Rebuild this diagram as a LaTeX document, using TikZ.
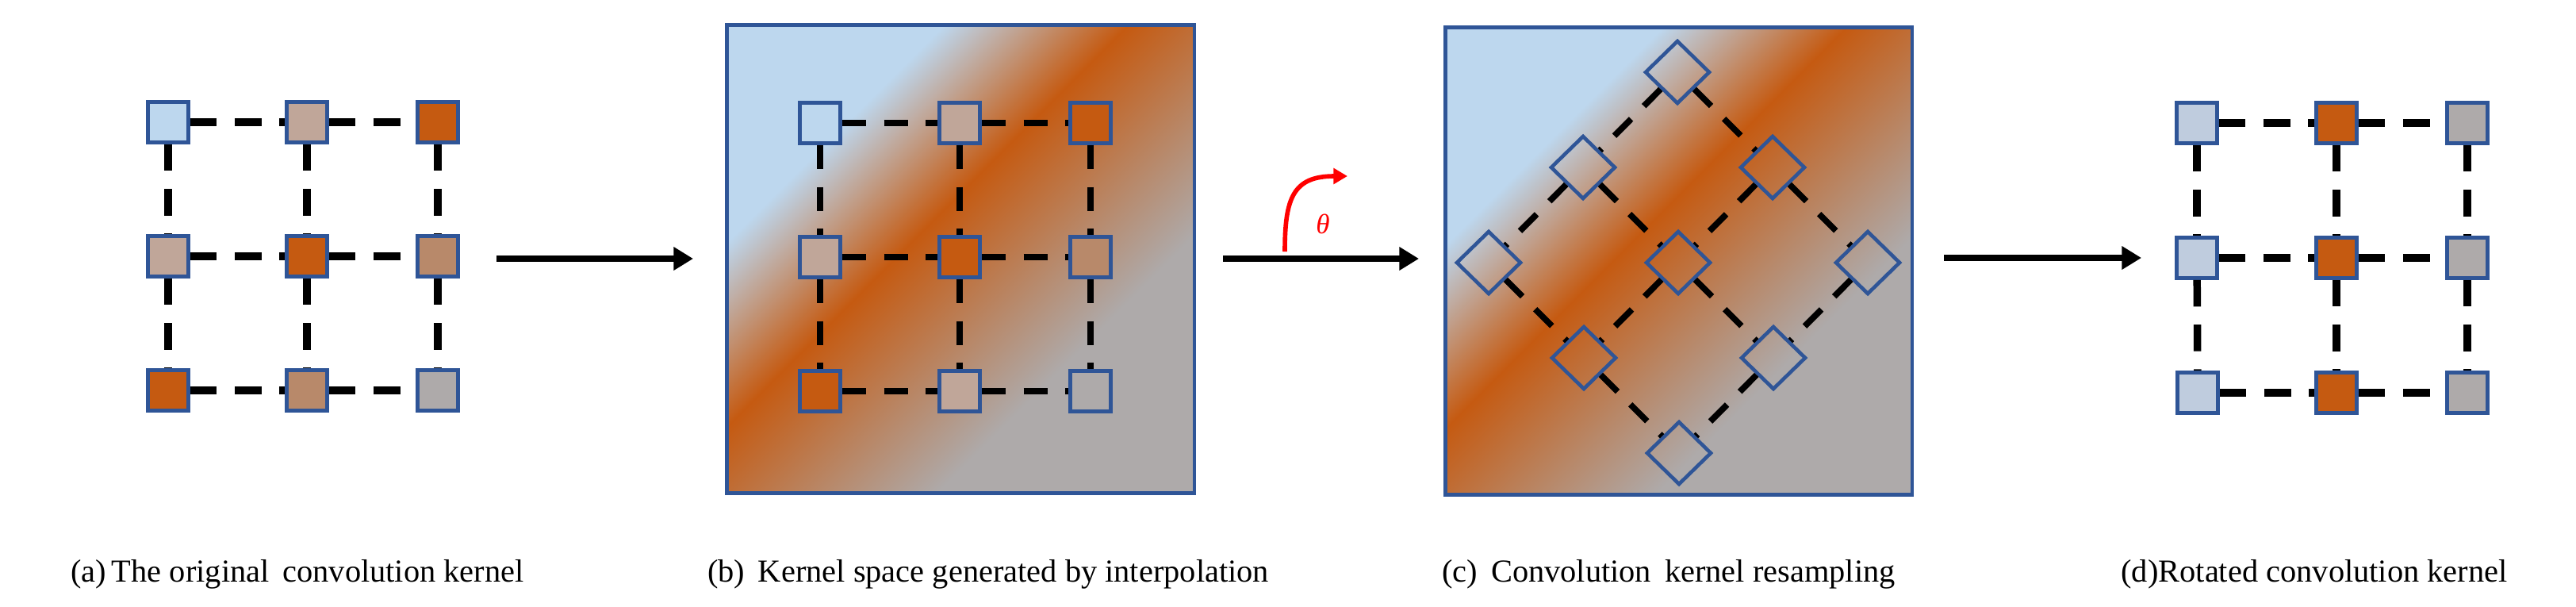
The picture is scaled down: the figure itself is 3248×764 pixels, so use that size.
\documentclass[tikz,border=0pt]{standalone}
\usepackage{fontspec}
\setmainfont{Liberation Serif}
\usetikzlibrary{shapes.geometric,arrows.meta}
\definecolor{lb}{HTML}{BDD7EE}
\definecolor{lbg}{HTML}{BFCCDE}
\definecolor{org}{HTML}{C55A11}
\definecolor{gry}{HTML}{AEAAAA}
\definecolor{tan}{HTML}{C0A699}
\definecolor{brn}{HTML}{B8896A}
\definecolor{bdr}{HTML}{2F5597}
\pgfdeclarehorizontalshading{kern}{100bp}{color(0bp)=(lb); color(31bp)=(lb); color(45bp)=(org); color(66bp)=(gry); color(100bp)=(gry)}
\tikzset{
  sq/.style={rectangle, draw=bdr, line width=2.8pt, minimum size=1.02cm, inner sep=0pt},
  dm/.style={diamond, draw=bdr, line width=2.6pt, minimum width=1.64cm, minimum height=1.6cm, inner sep=0pt},
  box/.style={rectangle, draw=bdr, line width=2.8pt, inner sep=0pt, shading=kern, shading angle=-45},
  dl/.style={line width=5.4pt, dash pattern=on 19pt off 13pt},
  dlb/.style={line width=4.4pt, dash pattern=on 17pt off 13pt},
  arr/.style={line width=4.5pt, -{Triangle[length=14pt,width=16pt]}},
  lab/.style={font=\fontsize{23}{26}\selectfont, anchor=base}
}
\begin{document}
\begin{tikzpicture}[x=0.02cm,y=-0.02cm]
\useasboundingbox (0,0) rectangle (3248,764);
% panel a
\foreach \n/\x/\y/\c in {a11/212/154/lb,a12/387/154/tan,a13/552/154/org,
  a21/212/323/tan,a22/387/323/org,a23/552/323/brn,
  a31/212/492/org,a32/387/492/brn,a33/552/492/gry}
  \node[sq, fill=\c] (\n) at (\x,\y) {};
\foreach \p/\q in {a11/a12,a12/a13,a21/a22,a22/a23,a31/a32,a32/a33,a11/a21,a21/a31,a12/a22,a22/a32,a13/a23,a23/a33}
  \draw[dl] (\p) -- (\q);
% panel b
\node[box, minimum width=11.8cm, minimum height=11.82cm] (boxb) at (1211,326.5) {};
\foreach \n/\x/\y/\c in {b11/1034/155/lb,b12/1210/155/tan,b13/1375/155/org,
  b21/1034/324/tan,b22/1210/324/org,b23/1375/324/brn,
  b31/1034/493/org,b32/1210/493/tan,b33/1375/493/gry}
  \node[sq, fill=\c] (\n) at (\x,\y) {};
\foreach \p/\q in {b11/b12,b12/b13,b21/b22,b22/b23,b31/b32,b32/b33,b11/b21,b21/b31,b12/b22,b22/b32,b13/b23,b23/b33}
  \draw[dlb] (\p) -- (\q);
% panel c
\node[box, minimum width=11.78cm, minimum height=11.8cm] (boxc) at (2116.5,329) {};
\foreach \i in {0,1,2}{\foreach \j in {0,1,2}{
  \node[dm] (c\i\j) at ({2115-119*\i+120*\j},{91+120*\i+120*\j}) {};}}
\foreach \p/\q in {c00/c01,c01/c02,c10/c11,c11/c12,c20/c21,c21/c22,c00/c10,c10/c20,c01/c11,c11/c21,c02/c12,c12/c22}
  \draw[dlb] (\p) -- (\q);
% panel d
\foreach \n/\x/\y/\c in {d11/2770/155/lbg,d12/2946/155/org,d13/3111/155/gry,
  d21/2770/325/lbg,d22/2946/325/org,d23/3111/325/gry,
  d31/2771/495/lbg,d32/2946/495/org,d33/3111/495/gry}
  \node[sq, fill=\c] (\n) at (\x,\y) {};
\foreach \p/\q in {d11/d12,d12/d13,d21/d22,d22/d23,d31/d32,d32/d33,d11/d21,d21/d31,d12/d22,d22/d32,d13/d23,d23/d33}
  \draw[dl] (\p) -- (\q);
% arrows
\coordinate (s1) at (626,326); \coordinate (e1) at (874,326);
\coordinate (s2) at (1542,326); \coordinate (e2) at (1789,326);
\coordinate (s3) at (2451,325); \coordinate (e3) at (2700,325);
\draw[arr] (s1) -- (e1);
\draw[arr] (s2) -- (e2);
\draw[arr] (s3) -- (e3);
\coordinate (r1) at (1620,317); \coordinate (r2) at (1699,222);
\draw[red, line width=3.2pt, -{Triangle[length=10pt,width=11pt]}] (r1) .. controls (1620,250) and (1630,222) .. (r2);
\node[red, font=\fontsize{20}{22}\selectfont\itshape] (th) at (1668,282) {θ};
% labels
\node[lab] (la) at (375,733) {(a)\,The original\, convolution kernel};
\node[lab] (lb) at (1246,733) {(b)\, Kernel space generated by interpolation};
\node[lab] (lc) at (2104,733) {(c)\, Convolution\, kernel resampling};
\node[lab] (ld) at (2918,733) {(d)Rotated convolution kernel};
\end{tikzpicture}
\end{document}
